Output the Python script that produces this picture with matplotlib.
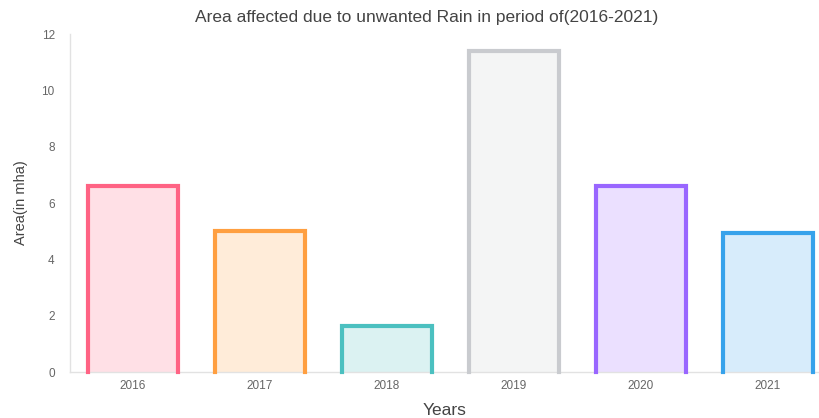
import matplotlib
matplotlib.use('Agg')
import matplotlib.pyplot as plt

years = ['2016', '2017', '2018', '2019', '2020', '2021']
area = [6.6, 5.0, 1.65, 11.4, 6.6, 4.95]

edge_colors = ['#ff6384', '#ff9f40', '#4bc0c0', '#c9cbcf', '#9966ff', '#36a2eb']
fill_colors = ['#ffe0e6', '#ffecd9', '#dbf2f2', '#f4f5f5', '#ebe0ff', '#d7ecfb']

plt.rcParams['font.family'] = ['Liberation Sans', 'DejaVu Sans']

fig = plt.figure(figsize=(8.2, 4.18), dpi=100)
ax = fig.add_axes([0.0854, 0.110, 0.9146, 0.8086])

x = range(len(years))
bars = ax.bar(x, area, width=0.71, color=fill_colors, linewidth=0, zorder=2)

# three-sided outline like chart.js (no bottom border)
for bar, c in zip(bars, edge_colors):
    x0 = bar.get_x()
    x1 = x0 + bar.get_width()
    h = bar.get_height()
    ax.plot([x0, x0, x1, x1], [0, h, h, 0], color=c, linewidth=3,
            solid_joinstyle='miter', zorder=3, clip_on=False)

ax.set_xlim(-0.496, 5.41)
ax.set_ylim(0, 12)
ax.set_yticks(range(0, 13, 2))
ax.set_xticks(list(x))
ax.set_xticklabels(years)

for side in ['top', 'right']:
    ax.spines[side].set_visible(False)
for side in ['left', 'bottom']:
    ax.spines[side].set_color('#e2e2e2')
    ax.spines[side].set_linewidth(1)

ax.tick_params(axis='both', length=0, labelsize=8.5, colors='#666666')
ax.tick_params(axis='y', pad=11)
ax.tick_params(axis='x', pad=6)

ax.set_xlabel('Years', fontsize=12.5, color='#444444', labelpad=8)
ax.set_ylabel('Area(in mha)', fontsize=10.5, color='#444444', labelpad=10)
fig.text(0.52, 0.958, 'Area affected due to unwanted Rain in period of(2016-2021)',
         ha='center', va='center', fontsize=12.5, color='#444444')

plt.savefig('out.png', dpi=100)
plt.close()
